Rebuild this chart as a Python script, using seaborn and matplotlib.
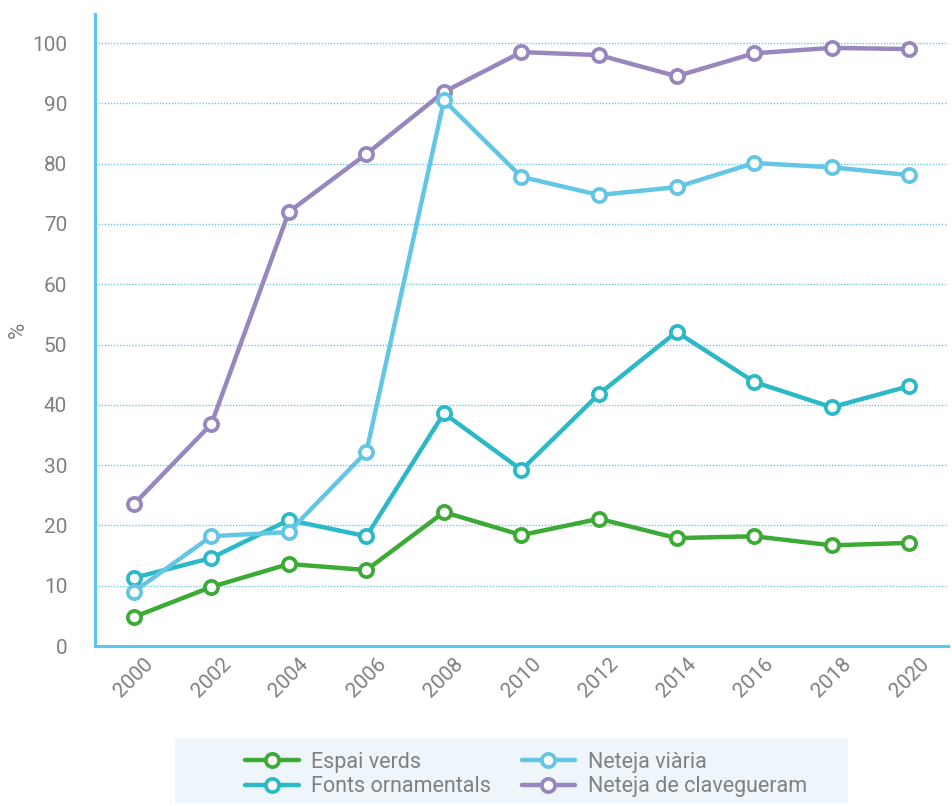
import numpy as np
import pandas as pd
import seaborn as sns
import matplotlib.pyplot as plt
from matplotlib.lines import Line2D
from matplotlib.patches import Rectangle

# dades (percentatges llegits del gràfic)
anys = ["2000", "2002", "2004", "2006", "2008", "2010", "2012", "2014", "2016", "2018", "2020"]
espai_verds = [4.8, 9.8, 13.6, 12.6, 22.2, 18.4, 21.1, 17.9, 18.2, 16.7, 17.1]
fonts_ornamentals = [11.3, 14.6, 20.9, 18.2, 38.6, 29.2, 41.8, 52.1, 43.8, 39.6, 43.1]
neteja_viaria = [9.0, 18.2, 18.9, 32.2, 90.5, 77.8, 74.8, 76.1, 80.1, 79.4, 78.1]
neteja_clavegueram = [23.5, 36.8, 72.0, 81.6, 91.9, 98.5, 98.0, 94.5, 98.3, 99.2, 99.0]

series = {
    "Neteja de clavegueram": neteja_clavegueram,
    "Espai verds": espai_verds,
    "Fonts ornamentals": fonts_ornamentals,
    "Neteja viària": neteja_viaria,
}
colors = {
    "Espai verds": "#3daa35",
    "Fonts ornamentals": "#2cb9c7",
    "Neteja viària": "#62c6e4",
    "Neteja de clavegueram": "#9886bf",
}
legend_order = ["Espai verds", "Fonts ornamentals", "Neteja viària", "Neteja de clavegueram"]

df = pd.concat(
    [pd.DataFrame({"any": anys, "valor": v, "serie": k}) for k, v in series.items()],
    ignore_index=True,
)

sns.set_style("white")
plt.rcParams["font.family"] = ["Roboto", "DejaVu Sans"]

fig = plt.figure(figsize=(9.53, 8.06), dpi=100)
ax = fig.add_axes([0.0997, 0.1985, 0.895, 0.784])

sns.pointplot(data=df, x="any", y="valor", hue="serie", order=anys,
              hue_order=list(series.keys()), palette=colors,
              markers="o", linestyles="-", errorbar=None, ax=ax,
              markersize=9.5, linewidth=3.2, legend=False)

for line in ax.lines:
    c = line.get_color()
    line.set_markerfacecolor("white")
    line.set_markeredgecolor(c)
    line.set_markeredgewidth(2.7)
    line.set_markersize(9.5)
    line.set_linewidth(3.2)

grey = "#808080"
axis_blue = "#5bc6ee"

ax.set_xlim(-0.5, len(anys) - 0.5)
ax.set_ylim(0, 104.8)
ax.set_yticks(np.arange(0, 101, 10))
for y in range(10, 101, 10):
    ax.axhline(y, color="#6cc7ea", lw=1.0, ls=(0, (1, 1.2)), zorder=0)

ax.set_xticks(np.arange(len(anys)))
ax.set_xticklabels(anys, rotation=45, fontsize=15, color=grey)
ax.tick_params(axis="x", length=0, pad=6)
ax.set_xticks(np.arange(-0.5, len(anys), 1), minor=True)
ax.tick_params(axis="x", which="minor", length=6, width=2, color="#d3dce4")
ax.tick_params(axis="y", length=0, labelsize=15, labelcolor=grey, pad=20)

for s in ["top", "right"]:
    ax.spines[s].set_visible(False)
for s in ["left", "bottom"]:
    ax.spines[s].set_color(axis_blue)
    ax.spines[s].set_linewidth(2.2)

ax.set_xlabel("")
ax.set_ylabel("%", fontsize=16, color=grey)
ax.yaxis.set_label_coords(-0.077, 0.5)

# caixa de la llegenda
fig.patches.append(Rectangle((0.1836, 0.004), 0.706, 0.0806, transform=fig.transFigure,
                             facecolor="#eef6fc", edgecolor="none", zorder=0))
handles = [Line2D([0], [0], color=colors[k], lw=3.2, marker="o", markersize=9.5,
                  markerfacecolor="white", markeredgecolor=colors[k], markeredgewidth=2.7)
           for k in legend_order]
fig.legend(handles, legend_order, loc="center", bbox_to_anchor=(0.552, 0.039), ncol=2,
           frameon=False, fontsize=15.5, labelcolor=grey, handlelength=2.5,
           columnspacing=1.4, handletextpad=0.6, labelspacing=0.15)

plt.savefig("out.png", dpi=100)
